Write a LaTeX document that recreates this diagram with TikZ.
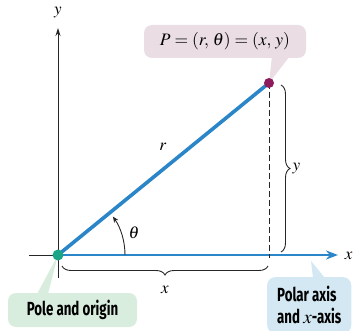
\documentclass[tikz,border=0pt]{standalone}
\usepackage{mathptmx}
\usepackage{fontspec}
\setmainfont{Liberation Serif}
\setsansfont{Fira Sans}[FakeStretch=0.7]
\usetikzlibrary{arrows.meta, calc, positioning, decorations.pathreplacing}

\definecolor{lineblue}{HTML}{2A86C8}
\definecolor{pointred}{HTML}{8E1B5C}
\definecolor{poleteal}{HTML}{1BA587}
\definecolor{pinkbox}{HTML}{EADDE4}
\definecolor{greenbox}{HTML}{D9EDDE}
\definecolor{bluebox}{HTML}{D3E8F2}

\tikzset{
    axisline/.style={line width=0.9pt, black!85},
    bluepath/.style={line width=3.6pt, lineblue},
    tagbox/.style={rounded corners=8pt, inner sep=0pt, font=\sffamily\bfseries\fontsize{19}{21}\selectfont, align=left},
    mathlabel/.style={font=\fontsize{17}{19}\selectfont},
    bracestyle/.style={decorate, decoration={brace, amplitude=9pt}, line width=0.9pt, black!85}
}

\begin{document}
\begin{tikzpicture}[x=1pt, y=-1pt]
    \useasboundingbox (0,0) rectangle (356,331);

    % Main points
    \coordinate (O) at (58,255);
    \coordinate (P) at (269,83);

    % Callout boxes
    \node[tagbox, fill=pinkbox, minimum width=162pt, minimum height=33pt] (Pbox) at (225,41.5)
        {\normalfont\fontsize{17.5}{19}\selectfont$P = (r,\, \theta) = (x,\, y)$};
    \node[tagbox, fill=greenbox, minimum width=129pt, minimum height=34pt, align=center] (polebox) at (72.5,310) {Pole and origin};
    \node[tagbox, fill=bluebox, minimum height=56pt, anchor=north west, inner xsep=10pt, inner ysep=4pt] (polarbox) at (267,277)
        {Polar axis\\[1pt] and {\normalfont$x$}-axis};

    % Pointers
    \fill[pinkbox] (272,56) -- (P) -- (290,56) -- cycle;
    \fill[greenbox] (37,294) -- (O) -- (48,294) -- cycle;
    \fill[bluebox] (313,278) -- (311,261) -- (325,278) -- cycle;

    % Axes
    \draw[axisline, -{Stealth[length=8pt, width=5pt]}] (58,278) -- (58,28) coordinate (ytip);
    \node[mathlabel] (ylab) at (58,13) {$y$};
    \draw[axisline] (29,255) -- (O);
    \draw[line width=2.6pt, lineblue, -{Stealth[length=12pt, width=9pt]}] (O) -- (338,255) coordinate (xtip);
    \node[mathlabel, anchor=east] (xlab) at (356,256) {$x$};

    % Dashed drop from P
    \draw[axisline, dashed, dash pattern=on 6pt off 3pt] (P) -- (269,258);

    % Radius
    \draw[bluepath] (O) -- (P);
    \node[mathlabel] (rlab) at (163,147) {$r$};

    % Angle
    \draw[axisline, -{Stealth[length=6pt, width=5pt]}] ($(O)+(67,0)$) arc[start angle=0, end angle=-35, radius=67];
    \node[mathlabel] (thetalab) at (134,233) {$\theta$};

    % Braces
    \draw[bracestyle] (281,85) -- (281,252) coordinate[midway] (ymid);
    \node[mathlabel, anchor=west] (ybrace) at ($(ymid)+(8,0)$) {$y$};
    \draw[bracestyle] (268,266) -- (62,266) coordinate[midway] (xmid);
    \node[mathlabel] (xbrace) at ($(xmid)+(0,24)$) {$x$};

    % Dots
    \fill[pointred] (P) circle (5);
    \fill[poleteal] (O) circle (5.5);
\end{tikzpicture}
\end{document}
